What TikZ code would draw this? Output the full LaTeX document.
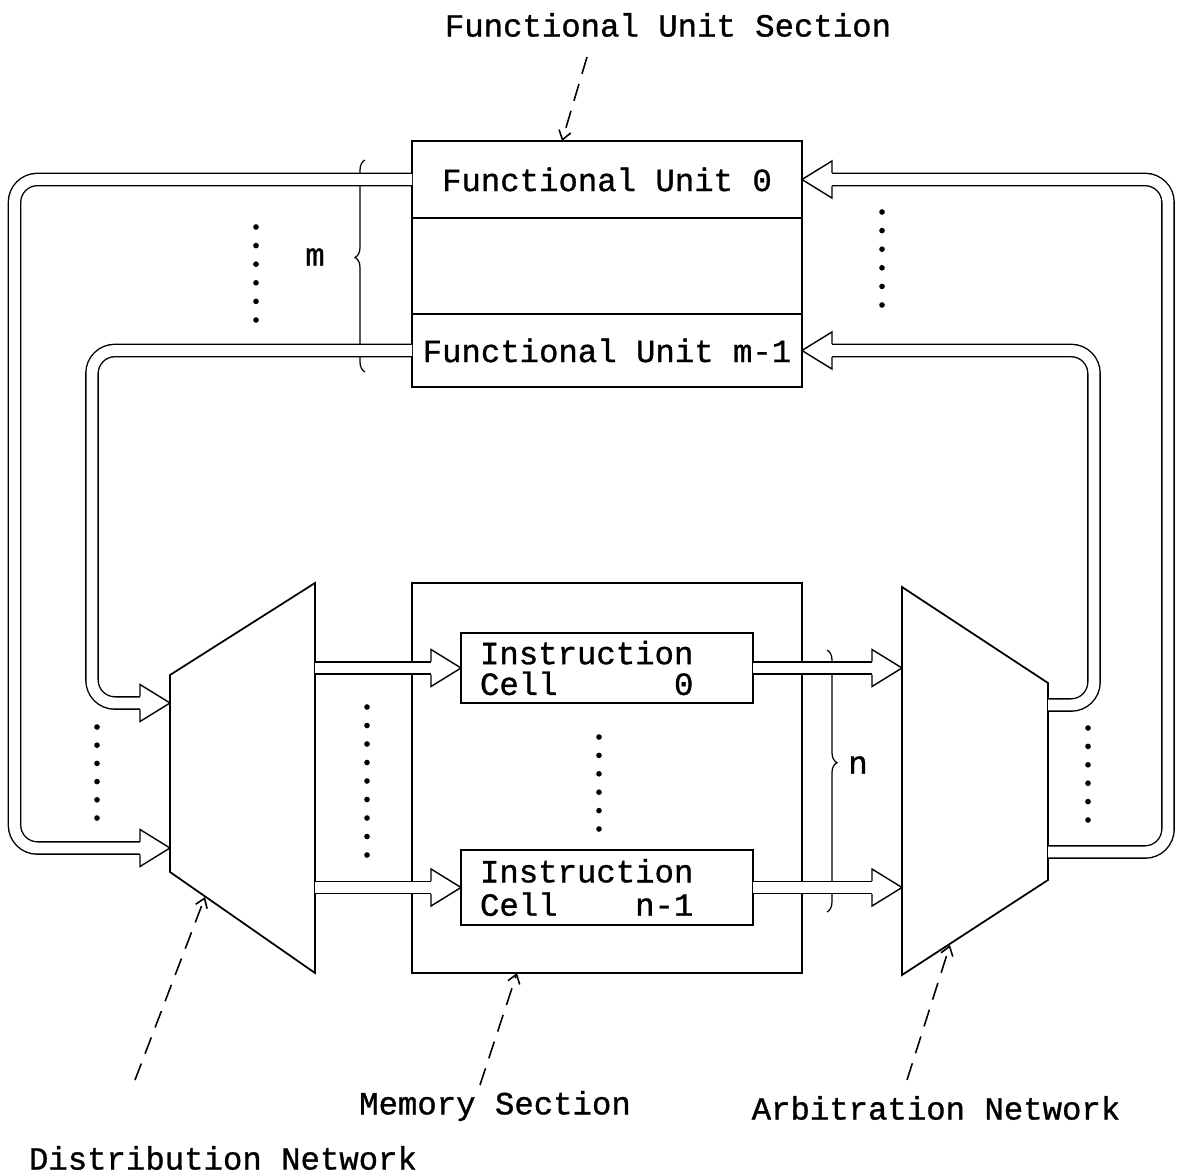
\documentclass[tikz,border=0pt]{standalone}
\usepackage{fontspec}
\newfontfamily\typewriter[FakeBold=1]{Liberation Mono}
\usetikzlibrary{arrows.meta,decorations.pathreplacing}
\newcommand{\diagfont}{\typewriter\fontsize{18.4}{15}\selectfont}
% hollow heads at the end of the double pipes
\newcommand{\headR}[1]{\filldraw[head] (#1) ++(-30,-6.5) -- ++(0,-12) -- (#1) -- ++(-30,18.5) -- ++(0,-12);}
\newcommand{\headL}[1]{\filldraw[head] (#1) ++(30,-6.5) -- ++(0,-12) -- (#1) -- ++(30,18.5) -- ++(0,-12);}
\tikzset{
  box/.style={draw, line width=1pt, inner sep=0pt, outer sep=0pt},
  cell/.style={box, minimum width=5.84cm, inner xsep=0.38cm, text width=5.08cm, align=left},
  pipe/.style={double, double distance=6.2pt, line width=0.8pt, rounded corners=13pt},
  head/.style={line width=0.8pt, fill=white, line join=miter},
  pointer/.style={line width=0.9pt, dash pattern=on 10pt off 6pt, -{Straight Barb[length=5pt,width=7pt]}},
  brace line/.style={line width=0.7pt, decorate, decoration={brace, amplitude=0.2cm}},
}
\begin{document}
\begin{tikzpicture}[x=0.02cm, y=-0.02cm, every node/.style={font=\diagfont}]
    \useasboundingbox (0,0) rectangle (1178,1176);

    % 1. FUNCTIONAL UNIT SECTION
    \node[box, minimum width=7.8cm, minimum height=1.54cm] (fu0) at (607,179.5) {Functional Unit 0};
    \node[box, minimum width=7.8cm, minimum height=1.92cm] (fumid) at (607,266) {};
    \node[box, minimum width=7.8cm, minimum height=1.46cm] (fum) at (607,350.5) {Functional Unit m-1};

    % 2. MEMORY SECTION AND INSTRUCTION CELLS
    \node[box, minimum width=7.8cm, minimum height=7.8cm] (mem) at (607,778) {};
    \node[cell, minimum height=1.4cm, font=\typewriter\fontsize{18.4}{17.5}\selectfont] (cell0) at (607,668) {Instruction\\Cell\phantom{000000}0};
    \node[cell, minimum height=1.5cm, font=\typewriter\fontsize{18.4}{19}\selectfont] (celln) at (607,887.5) {Instruction\\Cell\phantom{0000}n-1};

    % 3. DISTRIBUTION AND ARBITRATION NETWORKS
    \draw[line width=1pt] (170,675) -- (315,583) -- (315,973) -- (170,872) -- cycle;
    \draw[line width=1pt] (902,587) -- (1048,683) -- (1048,880) -- (902,975) -- cycle;
    \coordinate (dist-in0) at (170,703);
    \coordinate (dist-in1) at (170,848);
    \coordinate (dist-out0) at (315,668);
    \coordinate (dist-out1) at (315,887.5);
    \coordinate (arb-in0) at (902,668);
    \coordinate (arb-in1) at (902,887.5);
    \coordinate (arb-out0) at (1048,705);
    \coordinate (arb-out1) at (1048,852);

    % 4. BRACES m AND n
    \draw[brace line, decoration={aspect=0.54}] (365,372) -- (365,160);
    \node (lbl-m) at (315,257) {m};
    \draw[brace line, decoration={aspect=0.43}] (827,650) -- (827,912);
    \node (lbl-n) at (858,765) {n};

    % 5. DOTS
    \foreach \k in {0,...,5} {
        \fill ({256},{227+18.6*\k}) circle[radius=1.6pt];
        \fill ({882},{212+18.6*\k}) circle[radius=1.6pt];
        \fill ({97},{727+18.2*\k}) circle[radius=1.6pt];
        \fill ({1088},{728+18.4*\k}) circle[radius=1.6pt];
        \fill ({599},{737+18.4*\k}) circle[radius=1.6pt];
    }
    \foreach \k in {0,...,8}
        \fill ({367},{707+18.5*\k}) circle[radius=1.6pt];

    % 6. PIPES BETWEEN NETWORKS AND CELLS
    \draw[pipe] (dist-out0) -- ([xshift=-0.6cm]cell0.west);
    \headR{cell0.west}
    \draw[pipe] (dist-out1) -- ([xshift=-0.6cm]celln.west);
    \headR{celln.west}
    \draw[pipe] (cell0.east) -- ([xshift=-0.6cm]arb-in0);
    \headR{arb-in0}
    \draw[pipe] (celln.east) -- ([xshift=-0.6cm]arb-in1);
    \headR{arb-in1}

    % 7. FEEDBACK LOOPS
    \coordinate (rail-l1) at (14.5,0);
    \coordinate (rail-l2) at (92,0);
    \coordinate (rail-r1) at (1168,0);
    \coordinate (rail-r2) at (1094,0);
    \draw[pipe] (fu0.west) -| (rail-l1 |- dist-in1) -- ([xshift=-0.6cm]dist-in1);
    \headR{dist-in1}
    \draw[pipe] (fum.west) -| (rail-l2 |- dist-in0) -- ([xshift=-0.6cm]dist-in0);
    \headR{dist-in0}
    \draw[pipe] (arb-out1) -| (rail-r1 |- fu0.east) -- ([xshift=0.6cm]fu0.east);
    \headL{fu0.east}
    \draw[pipe] (arb-out0) -| (rail-r2 |- fum.east) -- ([xshift=0.6cm]fum.east);
    \headL{fum.east}

    % 8. SECTION LABELS AND POINTERS
    \node (lbl-fus) at (668,25) {Functional Unit Section};
    \node (lbl-mem) at (495,1106) {Memory Section};
    \node (lbl-arb) at (936,1108) {Arbitration Network};
    \node (lbl-dist) at (223,1158) {Distribution Network};
    \coordinate (fus-tail) at (587,57);
    \coordinate (mem-tail) at (480,1085);
    \coordinate (dist-tail) at (135,1080);
    \coordinate (dist-tip) at (205,897);
    \coordinate (arb-tail) at (907,1080);
    \coordinate (arb-tip) at (950,945);
    \draw[pointer] (fus-tail) -- ([xshift=-0.9cm]fu0.north);
    \draw[pointer] (mem-tail) -- ([xshift=-1.8cm]mem.south);
    \draw[pointer] (dist-tail) -- (dist-tip);
    \draw[pointer] (arb-tail) -- (arb-tip);

\end{tikzpicture}
\end{document}
